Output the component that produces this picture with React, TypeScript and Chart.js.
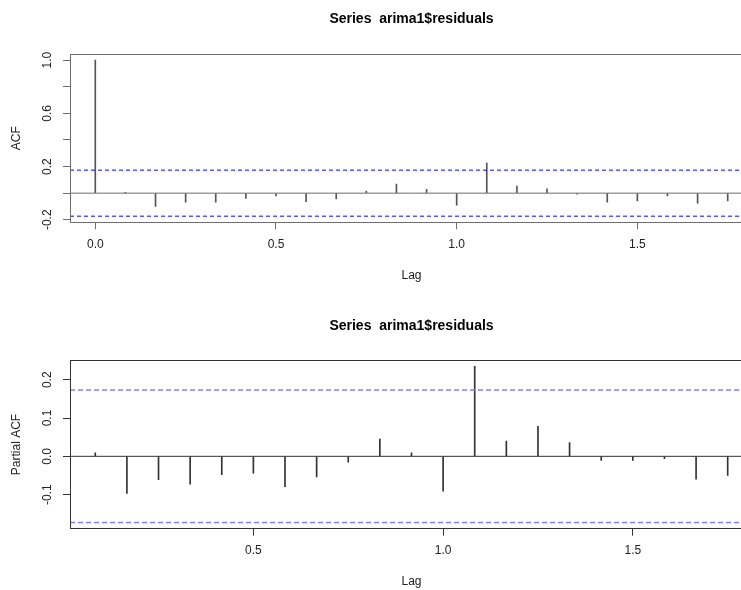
import React, { useEffect, useRef } from 'react';
import { Chart, registerables } from 'chart.js';

Chart.register(...registerables);

// ---------- data ----------
const acfLags = [0, 0.0833, 0.1667, 0.25, 0.3333, 0.4167, 0.5, 0.5833, 0.6667, 0.75, 0.8333, 0.9167, 1.0, 1.0833, 1.1667, 1.25, 1.3333, 1.4167, 1.5, 1.5833, 1.6667, 1.75];
const acfValues = [1.0, 0.006, -0.1, -0.068, -0.068, -0.04, -0.02, -0.063, -0.043, 0.015, 0.068, 0.028, -0.09, 0.226, 0.053, 0.033, -0.008, -0.068, -0.058, -0.02, -0.075, -0.058];
const pacfLags = [0.0833, 0.1667, 0.25, 0.3333, 0.4167, 0.5, 0.5833, 0.6667, 0.75, 0.8333, 0.9167, 1.0, 1.0833, 1.1667, 1.25, 1.3333, 1.4167, 1.5, 1.5833, 1.6667, 1.75];
const pacfValues = [0.009, -0.097, -0.061, -0.073, -0.048, -0.044, -0.079, -0.054, -0.015, 0.045, 0.009, -0.091, 0.235, 0.04, 0.078, 0.036, -0.011, -0.011, -0.006, -0.06, -0.05];
const ciBound = 0.173;

const acfXTicks = [0, 0.5, 1.0, 1.5];
const acfXTickLabels = ['0.0', '0.5', '1.0', '1.5'];
const acfYTicks = [-0.2, 0, 0.2, 0.4, 0.6, 0.8, 1.0];
const acfYTickLabels = ['-0.2', '', '0.2', '', '0.6', '', '1.0'];
const pacfXTicks = [0.5, 1.0, 1.5];
const pacfXTickLabels = ['0.5', '1.0', '1.5'];
const pacfYTicks = [-0.1, 0, 0.1, 0.2];
const pacfYTickLabels = ['-0.1', '0.0', '0.1', '0.2'];

const titleText = 'Series  arima1$residuals';
const xTitle = 'Lag';
const acfYTitle = 'ACF';
const pacfYTitle = 'Partial ACF';

const FONT = "'Liberation Sans', Arial, sans-serif";

const boxPlugin = {
  id: 'rbox',
  afterDatasetsDraw(chart: any, _args: any, opts: any) {
    const { ctx, chartArea } = chart;
    const { left, top, right, bottom } = chartArea;
    ctx.save();
    ctx.strokeStyle = opts.color || '#000';
    ctx.lineWidth = 1;
    ctx.strokeRect(Math.round(left) + 0.5, Math.round(top) + 0.5, Math.round(right - left), Math.round(bottom - top));
    ctx.restore();
  },
};

interface Params {
  lags: number[];
  values: number[];
  xMin: number;
  xMax: number;
  yMin: number;
  yMax: number;
  xTicks: number[];
  xTickLabels: string[];
  yTicks: number[];
  yTickLabels: string[];
  yTitle: string;
  xAxisHeight: number;
  xTitlePad: number;
  titlePadTop: number;
  titlePadBottom: number;
  barColor: string;
  frameColor: string;
  ciColor: string;
  ciWidth: number;
  ciDash: number[];
}

function makeConfig(p: Params): any {
  const bars = p.lags.map((x, i) => ({ x, y: p.values[i] }));
  const hline = (y: number) => [
    { x: p.xMin, y },
    { x: p.xMax, y },
  ];
  return {
    type: 'bar',
    data: {
      datasets: [
        {
          type: 'line',
          data: hline(ciBound),
          borderColor: p.ciColor,
          borderWidth: p.ciWidth,
          borderDash: p.ciDash,
          pointRadius: 0,
          fill: false,
        },
        {
          type: 'line',
          data: hline(-ciBound),
          borderColor: p.ciColor,
          borderWidth: p.ciWidth,
          borderDash: p.ciDash,
          pointRadius: 0,
          fill: false,
        },
        {
          type: 'line',
          data: hline(0),
          borderColor: p.frameColor,
          borderWidth: 1,
          pointRadius: 0,
          fill: false,
        },
        {
          type: 'bar',
          data: bars,
          backgroundColor: p.barColor,
          borderWidth: 0,
          barThickness: 1,
        },
      ],
    },
    options: {
      animation: false,
      responsive: false,
      devicePixelRatio: 1,
      layout: { padding: 0 },
      plugins: {
        legend: { display: false },
        tooltip: { enabled: false },
        title: {
          display: true,
          text: titleText,
          fullSize: false,
          color: '#000',
          font: { family: FONT, size: 14, weight: 'bold' },
          padding: { top: p.titlePadTop, bottom: p.titlePadBottom },
        },
        rbox: { color: p.frameColor },
      },
      scales: {
        x: {
          type: 'linear',
          offset: false,
          min: p.xMin,
          max: p.xMax,
          afterBuildTicks: (scale: any) => {
            scale.ticks = p.xTicks.map((v) => ({ value: v }));
          },
          afterFit: (scale: any) => {
            scale.height = p.xAxisHeight;
          },
          grid: {
            offset: false,
            drawOnChartArea: false,
            drawTicks: true,
            tickLength: 7,
            color: p.frameColor,
            tickColor: p.frameColor,
          },
          border: { display: false },
          ticks: {
            autoSkip: false,
            maxRotation: 0,
            minRotation: 0,
            padding: 8,
            color: '#222',
            font: { family: FONT, size: 12 },
            callback: (_v: any, i: number) => p.xTickLabels[i],
          },
          title: {
            display: true,
            text: xTitle,
            color: '#222',
            font: { family: FONT, size: 12 },
            padding: { top: 0, bottom: p.xTitlePad },
          },
        },
        y: {
          type: 'linear',
          min: p.yMin,
          max: p.yMax,
          afterBuildTicks: (scale: any) => {
            scale.ticks = p.yTicks.map((v) => ({ value: v }));
          },
          afterFit: (scale: any) => {
            scale.width = 70;
          },
          grid: {
            drawOnChartArea: false,
            drawTicks: true,
            tickLength: 7,
            color: p.frameColor,
            tickColor: p.frameColor,
          },
          border: { display: false },
          ticks: {
            autoSkip: false,
            minRotation: 90,
            maxRotation: 90,
            crossAlign: 'center',
            padding: 4.5,
            color: '#222',
            font: { family: FONT, size: 12 },
            callback: (_v: any, i: number) => p.yTickLabels[i],
          },
          title: {
            display: true,
            text: p.yTitle,
            color: '#222',
            font: { family: FONT, size: 12 },
            padding: { top: 9.8, bottom: 0 },
          },
        },
      },
    },
    plugins: [boxPlugin],
  };
}

export default function App() {
  const topRef = useRef<HTMLCanvasElement | null>(null);
  const bottomRef = useRef<HTMLCanvasElement | null>(null);

  useEffect(() => {
    const top = new Chart(
      topRef.current as HTMLCanvasElement,
      makeConfig({
        lags: acfLags,
        values: acfValues,
        xMin: -0.07,
        xMax: 1.82,
        yMin: -0.219,
        yMax: 1.046,
        xTicks: acfXTicks,
        xTickLabels: acfXTickLabels,
        yTicks: acfYTicks,
        yTickLabels: acfYTickLabels,
        yTitle: acfYTitle,
        xAxisHeight: 72.7,
        xTitlePad: 12.1,
        titlePadTop: 10.6,
        titlePadBottom: 26.6,
        barColor: '#555',
        frameColor: '#6e6e6e',
        ciColor: '#0000ff',
        ciWidth: 1,
        ciDash: [4, 3],
      })
    );
    const bottom = new Chart(
      bottomRef.current as HTMLCanvasElement,
      makeConfig({
        lags: pacfLags,
        values: pacfValues,
        xMin: 0.0167,
        xMax: 1.8167,
        yMin: -0.189,
        yMax: 0.2507,
        xTicks: pacfXTicks,
        xTickLabels: pacfXTickLabels,
        yTicks: pacfYTicks,
        yTickLabels: pacfYTickLabels,
        yTitle: pacfYTitle,
        xAxisHeight: 61.3,
        xTitlePad: 0.8,
        titlePadTop: 22.6,
        titlePadBottom: 25.9,
        barColor: '#333',
        frameColor: '#333',
        ciColor: '#7f7fff',
        ciWidth: 1.6,
        ciDash: [5, 3],
      })
    );
    return () => {
      top.destroy();
      bottom.destroy();
    };
  }, []);

  return (
    <div
      style={{
        position: 'absolute',
        left: 0,
        top: 0,
        width: 741,
        height: 590,
        overflow: 'hidden',
        background: '#fff',
      }}
    >
      <canvas ref={topRef} width={753} height={295} style={{ display: 'block', width: 753, height: 295 }} />
      <canvas ref={bottomRef} width={753} height={295} style={{ display: 'block', width: 753, height: 295 }} />
    </div>
  );
}
